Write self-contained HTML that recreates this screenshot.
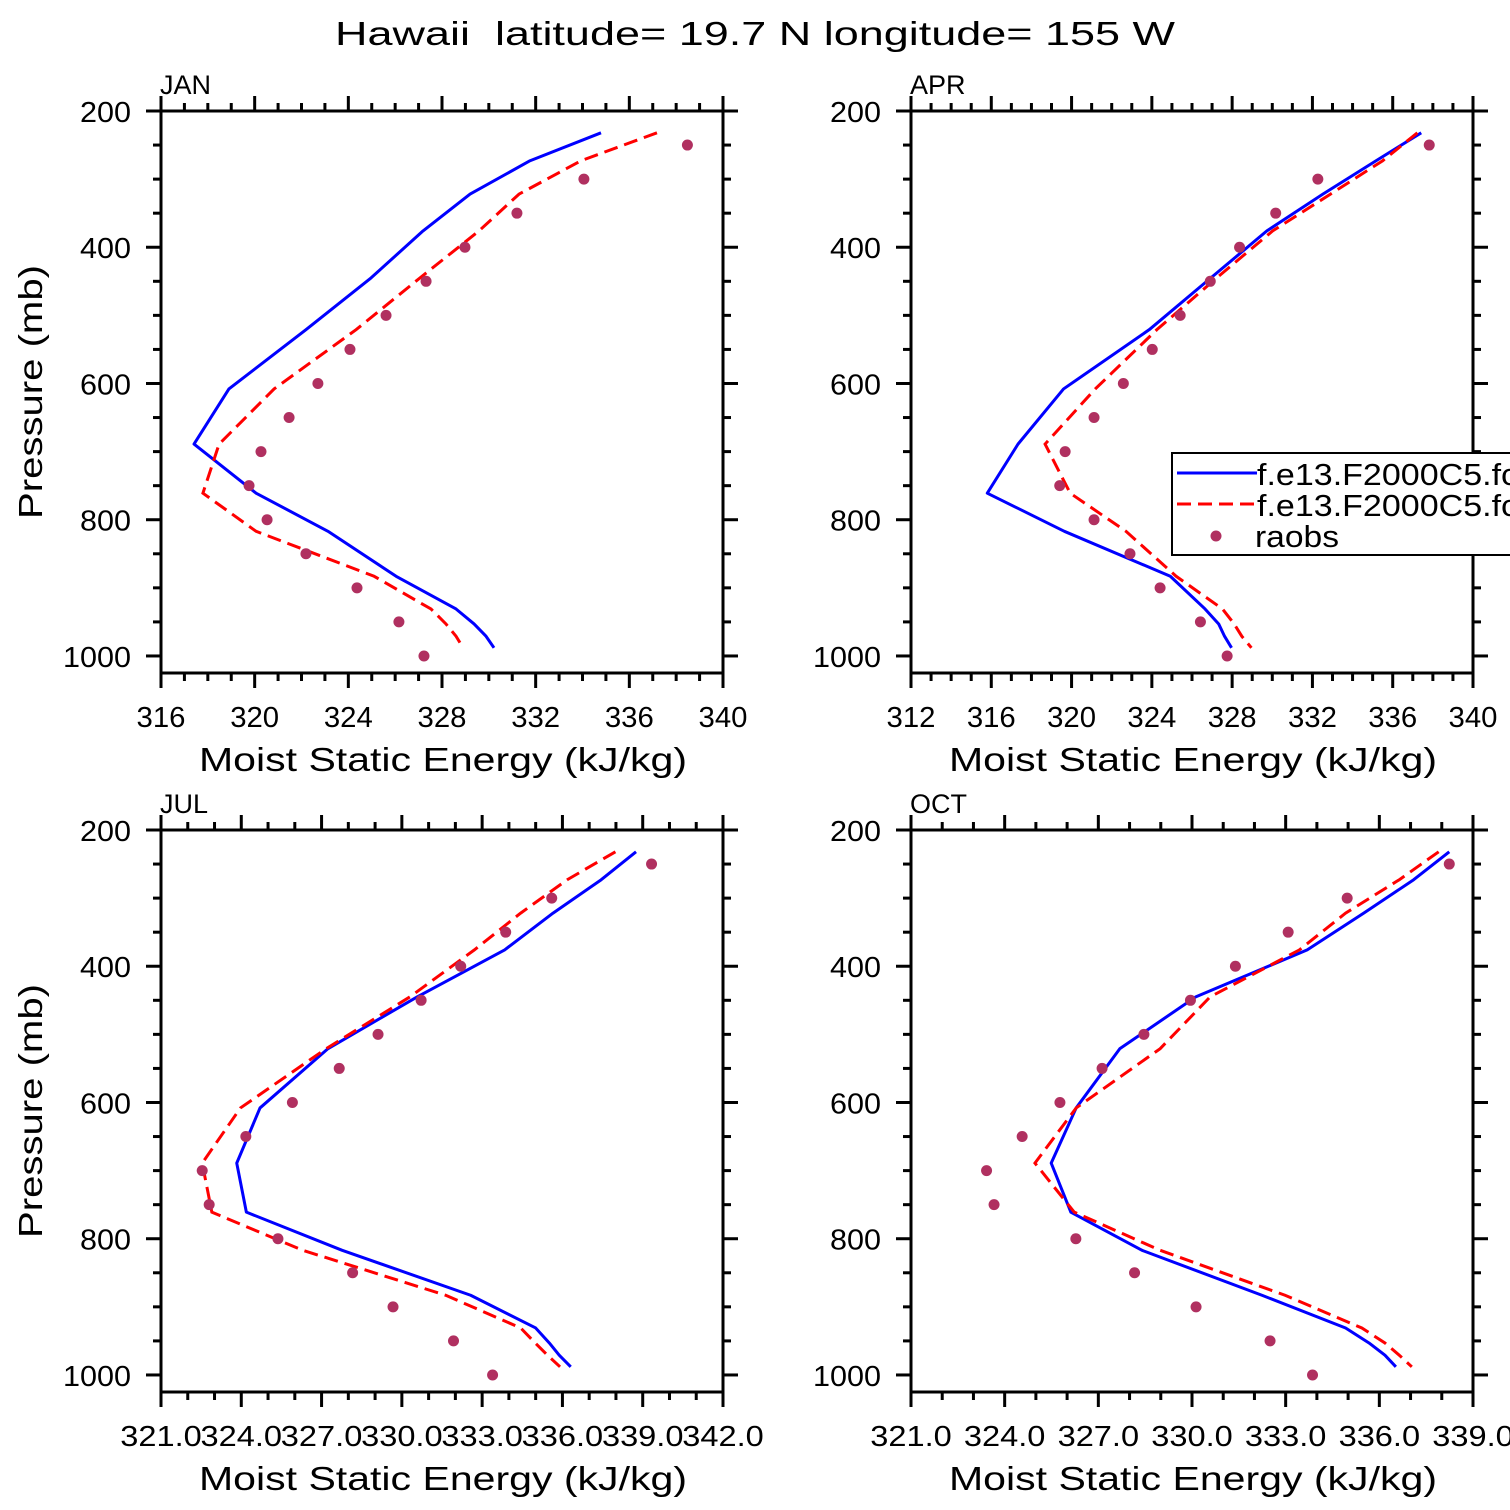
<!DOCTYPE html>
<html><head><meta charset="utf-8"><style>
html,body{margin:0;padding:0;background:#fff;}
svg{display:block;font-family:"Liberation Sans","DejaVu Sans",sans-serif;}
</style></head><body>
<svg id="fig" width="1510" height="1510" viewBox="0 0 1510 1510">
<text x="755" y="45" text-anchor="middle" font-size="33" textLength="840" lengthAdjust="spacingAndGlyphs" xml:space="preserve">Hawaii  latitude= 19.7 N longitude= 155 W</text>
</svg>
<script>
const levels = [232,273,322,376,445,521,608,689,761,817,883,931,953,971,988];
const obsLevels = [250,300,350,400,450,500,550,600,650,700,750,800,850,900,950,1000];
const janBlue = [334.79,331.76,329.2,327.19,324.97,322.19,318.9,317.41,320.06,323.13,326.04,328.6,329.37,329.88,330.22];
const janRed = [337.18,333.94,331.29,329.58,327.06,324.33,320.83,318.48,317.79,320.06,325.1,327.53,328.17,328.6,328.9];
const janObs = [338.48,334.06,331.2,328.98,327.32,325.61,324.07,322.7,321.47,320.27,319.76,320.53,322.19,324.37,326.16,327.23];
const aprBlue = [337.42,335.17,332.52,329.73,326.94,323.87,319.6,317.33,315.8,319.64,324.92,326.65,327.33,327.62,327.97];
const aprRed = [337.23,335.5,332.9,330.02,327.23,324.25,321.18,318.68,319.93,322.71,325.21,327.52,328.1,328.48,328.96];
const aprObs = [337.82,332.27,330.17,328.37,326.91,325.41,324.02,322.58,321.12,319.68,319.41,321.12,322.91,324.41,326.42,327.75];
const julBlue = [338.75,337.45,335.65,333.84,330.57,327.24,324.7,323.83,324.19,327.77,332.57,335.0,335.51,335.88,336.31];
const julRed = [337.98,336.18,334.44,332.71,330.3,327.17,323.97,322.54,322.9,326.3,331.64,334.44,334.98,335.44,335.91];
const julObs = [339.33,335.6,333.88,332.2,330.72,329.11,327.66,325.91,324.17,322.54,322.8,325.37,328.16,329.67,331.93,333.39];
const octBlue = [338.24,337.1,335.5,333.69,330.12,327.69,326.29,325.49,326.12,328.4,332.24,334.92,335.67,336.18,336.53];
const octRed = [337.9,336.64,334.92,333.44,330.58,328.98,326.29,324.97,326.23,328.98,332.98,335.44,336.18,336.64,337.04];
const octObs = [338.24,334.97,333.08,331.39,329.95,328.46,327.12,325.77,324.56,323.42,323.66,326.28,328.16,330.13,332.5,333.86];
const yTicks = [200,400,600,800,1000];
const janXTicks = ["316","320","324","328","332","336","340"];
const aprXTicks = ["312","316","320","324","328","332","336","340"];
const julXTicks = ["321.0","324.0","327.0","330.0","333.0","336.0","339.0","342.0"];
const octXTicks = ["321.0","324.0","327.0","330.0","333.0","336.0","339.0"];

const NS = "http://www.w3.org/2000/svg";
const svg = document.getElementById("fig");
function mk(tag, attrs, parent){const e=document.createElementNS(NS,tag);for(const k in attrs)e.setAttribute(k,attrs[k]);(parent||svg).appendChild(e);return e;}

const panels = [
 {key:"jan",label:"JAN",x0:161,y0:111,xmin:316,xmax:340,minor:1,ticks:janXTicks,blue:janBlue,red:janRed,obs:janObs,ytitle:true},
 {key:"apr",label:"APR",x0:911,y0:111,xmin:312,xmax:340,minor:1,ticks:aprXTicks,blue:aprBlue,red:aprRed,obs:aprObs,legend:true},
 {key:"jul",label:"JUL",x0:161,y0:830,xmin:321,xmax:342,minor:1,ticks:julXTicks,blue:julBlue,red:julRed,obs:julObs,ytitle:true},
 {key:"oct",label:"OCT",x0:911,y0:830,xmin:321,xmax:339,minor:1,ticks:octXTicks,blue:octBlue,red:octRed,obs:octObs}
];
const W=562,H=562,PMIN=200,PMAX=1025;

panels.forEach(p=>{
  const g=mk("g",{});
  
  
  const xs=v=>p.x0+(v-p.xmin)/(p.xmax-p.xmin)*W;
  const ys=v=>p.y0+(v-PMIN)/(PMAX-PMIN)*H;
  const x1=p.x0+W,y1=p.y0+H;
  const step=(p.xmax-p.xmin)/(p.ticks.length-1);
  for(let v=p.xmin;v<=p.xmax+1e-9;v+=p.minor){
    const r=(v-p.xmin)/step;
    const major=Math.abs(r-Math.round(r))<1e-6;
    const L=major?15:8, X=xs(v);
    mk("line",{x1:X,y1:y1,x2:X,y2:y1+L,stroke:"#000","stroke-width":3},g);
    mk("line",{x1:X,y1:p.y0,x2:X,y2:p.y0-L,stroke:"#000","stroke-width":3},g);
  }
  for(let v=200;v<=1000;v+=50){
    const major=v%200===0, L=major?15:8, Y=ys(v);
    mk("line",{x1:p.x0,y1:Y,x2:p.x0-L,y2:Y,stroke:"#000","stroke-width":3},g);
    mk("line",{x1:x1,y1:Y,x2:x1+L,y2:Y,stroke:"#000","stroke-width":3},g);
  }
  const frame=mk("rect",{x:p.x0,y:p.y0,width:W,height:H,fill:"none",stroke:"#000","stroke-width":3},g);
  
  
  p.ticks.forEach((t,i)=>{
    const v=p.xmin+i*step;
    const tx=mk("text",{x:xs(v),y:y1+54,"text-anchor":"middle","font-size":29,textLength:t.length*16.3,lengthAdjust:"spacingAndGlyphs"},g);
    tx.textContent=t;
    
    
  });
  yTicks.forEach(v=>{
    const s=String(v);
    const ty=mk("text",{x:p.x0-30,y:ys(v)+11,"text-anchor":"end","font-size":29,textLength:s.length*17,lengthAdjust:"spacingAndGlyphs"},g);
    ty.textContent=s;
    
    
  });
  const lab=mk("text",{x:p.x0-1,y:p.y0-17,"font-size":27},g);
  lab.textContent=p.label;
  
  
  const xt=mk("text",{x:p.x0+282,y:y1+98,"text-anchor":"middle","font-size":33,textLength:488,lengthAdjust:"spacingAndGlyphs"},g);
  xt.textContent="Moist Static Energy (kJ/kg)";
  
  
  if(p.ytitle){
    const cy=p.y0+281;
    const yt=mk("text",{x:0,y:0,"text-anchor":"middle","font-size":33,textLength:254,lengthAdjust:"spacingAndGlyphs",transform:`translate(${p.x0-119},${cy}) rotate(-90)`},g);
    yt.textContent="Pressure (mb)";
    
    
  }
  const bl=mk("polyline",{points:p.blue.map((v,i)=>xs(v)+","+ys(levels[i])).join(" "),fill:"none",stroke:"#0000ff","stroke-width":3,"stroke-linejoin":"round"},g);
  
  
  const rl=mk("polyline",{points:p.red.map((v,i)=>xs(v)+","+ys(levels[i])).join(" "),fill:"none",stroke:"#ff0000","stroke-width":3,"stroke-dasharray":"14 7"},g);
  
  
  p.obs.forEach((v,i)=>{
    const c=mk("circle",{cx:xs(v),cy:ys(obsLevels[i]),r:5.5,fill:"#b03060"},g);
    
    
  });
  if(p.legend){
    const lg=mk("g",{});
    
    
    mk("rect",{x:1172,y:453,width:360,height:102,fill:"#fff",stroke:"#000","stroke-width":2},lg);
    mk("line",{x1:1177,y1:473,x2:1257,y2:473,stroke:"#0000ff","stroke-width":3},lg);
    mk("line",{x1:1177,y1:504,x2:1257,y2:504,stroke:"#ff0000","stroke-width":3,"stroke-dasharray":"14 7"},lg);
    mk("circle",{cx:1216,cy:536,r:5.5,fill:"#b03060"},lg);
    const t1=mk("text",{x:1257,y:485,"font-size":31,textLength:280,lengthAdjust:"spacingAndGlyphs"},lg);t1.textContent="f.e13.F2000C5.fc5";
    
    
    const t2=mk("text",{x:1257,y:516,"font-size":31,textLength:280,lengthAdjust:"spacingAndGlyphs"},lg);t2.textContent="f.e13.F2000C5.fc5";
    
    
    const t3=mk("text",{x:1255,y:547,"font-size":31,textLength:84,lengthAdjust:"spacingAndGlyphs"},lg);t3.textContent="raobs";
    
    
  }
});
</script>
</body></html>
